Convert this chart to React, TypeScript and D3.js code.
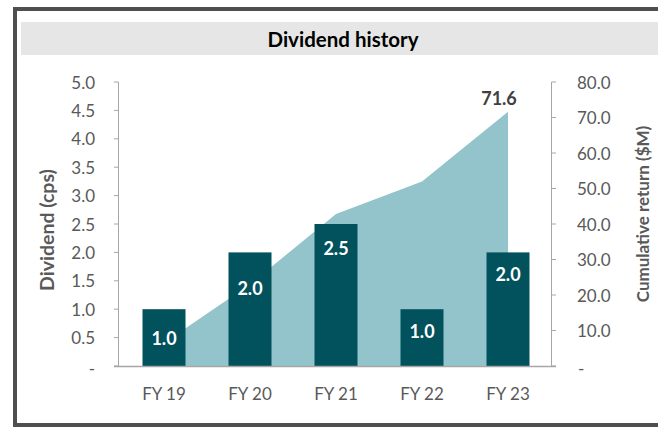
import React from "react";
import * as d3 from "d3";

const categories = ["FY 19", "FY 20", "FY 21", "FY 22", "FY 23"];
const dividends = [1.0, 2.0, 2.5, 1.0, 2.0];
const cumulativeReturn = [6.5, 23.0, 42.8, 52.0, 71.6];
const leftTicks = [0, 0.5, 1, 1.5, 2, 2.5, 3, 3.5, 4, 4.5, 5];
const rightTicks = [0, 10, 20, 30, 40, 50, 60, 70, 80];
const title = "Dividend history";
const leftTitle = "Dividend (cps)";
const rightTitle = "Cumulative return ($M)";
// per-bar vertical label offset from bar top (layout)
const labelOffsets = [29, 36, 24, 22, 22];

const W = 658, H = 427;
const FONT = "Lato, 'Open Sans', sans-serif";
const BAR = "#01525d";
const AREA = "#93c4cb";
const AXIS = "#a6a6a6";
const TXT = "#595959";

export default function App() {
  const x = d3.scaleBand().domain(categories).range([121, 551]).paddingInner(0.5).paddingOuter(0.25);
  const yL = d3.scaleLinear().domain([0, 5]).range([366, 82]);
  const yR = d3.scaleLinear().domain([0, 80]).range([366, 82]);
  const cx = (c: string) => (x(c) as number) + x.bandwidth() / 2;
  const area = d3
    .area<number>()
    .x((_, i) => cx(categories[i]))
    .y0(yR(0))
    .y1((d) => yR(d));
  const fmt = (v: number, d: number) => (v === 0 ? "-" : v.toFixed(d));
  const last = cumulativeReturn.length - 1;

  return (
    <svg width={W} height={H} style={{ position: "absolute", left: 0, top: 0, background: "#fff" }} fontFamily={FONT}>
      <rect x={15} y={9} width={W + 10} height={416} fill="#fff" stroke="#4f4f4f" strokeWidth={4} />
      <rect x={21} y={22} width={W} height={33} fill="#e6e6e6" />
      <text x={343} y={39} textAnchor="middle" dominantBaseline="central" fontSize={20.5} fontWeight={700} fill="#000">
        {title}
      </text>

      <path d={area(cumulativeReturn) || ""} fill={AREA} />

      {dividends.map((v, i) => (
        <rect key={i} x={x(categories[i])} y={yL(v)} width={x.bandwidth()} height={yL(0) - yL(v)} fill={BAR} />
      ))}
      {dividends.map((v, i) => (
        <text key={i} x={cx(categories[i])} y={yL(v) + labelOffsets[i]} textAnchor="middle" dominantBaseline="central"
          fontSize={18} fontWeight={700} fill="#fff">
          {v.toFixed(1)}
        </text>
      ))}
      <text x={cx(categories[last]) - 9} y={yR(cumulativeReturn[last]) - 14} textAnchor="middle" dominantBaseline="central"
        fontSize={18} fontWeight={700} fill="#404040">
        {cumulativeReturn[last].toFixed(1)}
      </text>

      {/* left axis */}
      <line x1={118.5} x2={118.5} y1={yL(5)} y2={yL(0)} stroke={AXIS} />
      {leftTicks.map((t) => (
        <g key={t}>
          <line x1={114} x2={118.5} y1={yL(t)} y2={yL(t)} stroke={AXIS} />
          <text x={95} y={yL(t) + (t === 0 ? 2 : 0)} textAnchor="end" dominantBaseline="central" fontSize={17} fill={TXT}>
            {fmt(t, 1)}
          </text>
        </g>
      ))}
      {/* right axis */}
      <line x1={551.5} x2={551.5} y1={yR(80)} y2={yR(0)} stroke={AXIS} />
      {rightTicks.map((t) => (
        <g key={t}>
          <line x1={551.5} x2={556} y1={yR(t)} y2={yR(t)} stroke={AXIS} />
          <text x={t === 0 ? 578 : 577} y={yR(t) + (t === 0 ? 2 : 0)} textAnchor="start" dominantBaseline="central" fontSize={17} fill={TXT}>
            {fmt(t, 1)}
          </text>
        </g>
      ))}
      {/* baseline */}
      <line x1={114} x2={556} y1={366.5} y2={366.5} stroke={AXIS} strokeWidth={1.5} />
      {categories.map((c) => (
        <text key={c} x={cx(c)} y={393} textAnchor="middle" dominantBaseline="central" fontSize={17} fill={TXT}>
          {c}
        </text>
      ))}

      <text transform={`translate(46,230) rotate(-90)`} textAnchor="middle" dominantBaseline="central" fontSize={19.5} fontWeight={700} fill={TXT}>
        {leftTitle}
      </text>
      <text transform={`translate(642,214) rotate(-90)`} textAnchor="middle" dominantBaseline="central" fontSize={17} fontWeight={700} fill={TXT}>
        {rightTitle}
      </text>
    </svg>
  );
}
